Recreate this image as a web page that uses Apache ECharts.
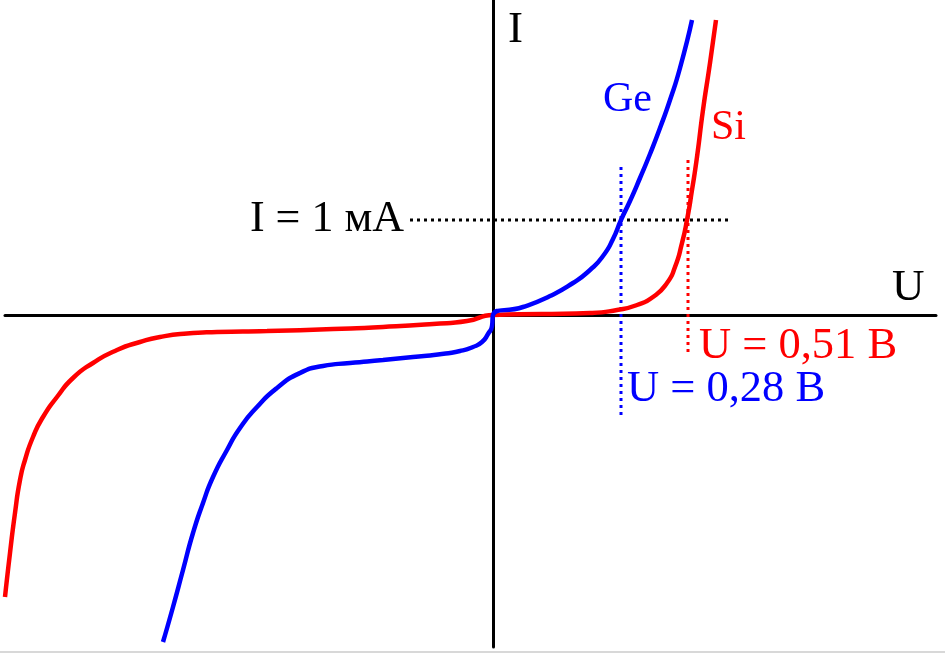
<!DOCTYPE html>
<html>
<head>
<meta charset="utf-8">
<script src="https://cdn.jsdelivr.net/npm/echarts@6/dist/echarts.min.js"></script>
<style>
html,body{margin:0;padding:0;background:#fff;}
#chart{width:945px;height:653px;}
</style>
</head>
<body>
<div id="chart"></div>
<script>
// Germanium diode I-V curve (schematic units)
var geU = [-3.30,-3.20,-3.10,-3.00,-2.90,-2.80,-2.66,-2.53,-2.36,-2.16,-1.93,-1.70,-1.43,-1.10,-0.80,-0.55,-0.33,-0.20,-0.11,-0.05,-0.01,0,
            0.30,0.57,0.80,0.97,1.10,1.20,1.28,1.37,1.47,1.57,1.67,1.77,1.87,1.99];
var geI = [-3.27,-2.92,-2.55,-2.18,-1.88,-1.62,-1.35,-1.13,-0.92,-0.73,-0.58,-0.51,-0.48,-0.45,-0.42,-0.395,-0.36,-0.32,-0.27,-0.19,-0.11,0,
            0.08,0.19,0.32,0.45,0.59,0.76,0.95,1.14,1.37,1.61,1.87,2.15,2.47,2.95];
// Silicon diode I-V curve (schematic units)
var siU = [-4.88,-4.83,-4.78,-4.73,-4.68,-4.60,-4.50,-4.36,-4.20,-4.00,-3.76,-3.53,-3.33,-3.06,-2.76,-2.26,-1.60,-1.10,-0.60,-0.26,0,
            0.97,1.24,1.44,1.60,1.74,1.82,1.89,1.94,1.99,2.04,2.10,2.17,2.23];
var siI = [-2.82,-2.38,-1.98,-1.65,-1.45,-1.22,-1.02,-0.82,-0.63,-0.48,-0.35,-0.27,-0.22,-0.185,-0.17,-0.16,-0.14,-0.12,-0.09,-0.06,0,
            0.02,0.05,0.10,0.18,0.32,0.48,0.72,0.95,1.25,1.58,2.05,2.52,2.95];
// Reference markers
var refCurrent = 0.95;            // I = 1 mA level
var refCurrentSpan = [-0.83, 2.37];
var geKnee = 1.28;                // U = 0,28 B
var geKneeSpan = [1.48, -1.00];
var siKnee = 1.95;                // U = 0,51 B
var siKneeSpan = [1.55, -0.40];
var labels = {
  axisI: 'I', axisU: 'U', ge: 'Ge', si: 'Si',
  current: 'I = 1 мA', siVolt: 'U = 0,51 B', geVolt: 'U = 0,28 B'
};

function pairs(xs, ys){ return xs.map(function(x,i){ return [x, ys[i]]; }); }

var BLUE = '#0000ff', RED = '#ff0000';
var FONT = '"Liberation Serif", "Times New Roman", serif';

var chart = echarts.init(document.getElementById('chart'), null, {renderer:'canvas'});
var axisCommon = {
  type: 'value',
  splitLine: {show:false},
  axisTick: {show:false},
  axisLabel: {show:false},
  axisLine: {show:true, onZero:true, lineStyle:{color:'#000', width:3}}
};
function txt(text, x, y, size, color, align){
  return {type:'text', z:100, style:{text:text, x:x, y:y, fill:color,
    font: size + 'px ' + FONT, textAlign: align || 'left', textVerticalAlign:'middle', verticalAlign:'middle'}};
}
chart.setOption({
  animation:false,
  backgroundColor:'#fff',
  grid:{left:5, right:9, top:0, bottom:6, containLabel:false},
  xAxis: Object.assign({min:-4.88, max:4.43}, axisCommon),
  yAxis: Object.assign({min:-3.32, max:3.15}, axisCommon),
  series:[
    {type:'line', data:[[refCurrentSpan[0],refCurrent],[refCurrentSpan[1],refCurrent]], symbol:'none',
     lineStyle:{color:'#000', width:3, type:[3,4]}, z:1},
    {type:'line', data:[[geKnee,geKneeSpan[0]],[geKnee,geKneeSpan[1]]], symbol:'none',
     lineStyle:{color:BLUE, width:3, type:[3,4]}, z:1},
    {type:'line', data:[[siKnee,siKneeSpan[0]],[siKnee,siKneeSpan[1]]], symbol:'none',
     lineStyle:{color:RED, width:3, type:[3,4]}, z:1},
    {type:'line', name:'Si', data:pairs(siU, siI), symbol:'none', smooth:0.6,
     lineStyle:{color:RED, width:4.5}, z:3},
    {type:'line', name:'Ge', data:pairs(geU, geI), symbol:'none', smooth:0.6,
     lineStyle:{color:BLUE, width:4.5}, z:4}
  ],
  graphic:[
    txt(labels.axisI, 508, 30, 45, '#000'),
    txt(labels.axisU, 892, 288, 45, '#000'),
    txt(labels.ge, 603, 100, 42, BLUE),
    txt(labels.si, 711, 128, 42, RED),
    txt(labels.current, 404, 219, 44, '#000', 'right'),
    txt(labels.siVolt, 699, 346, 44.5, RED),
    txt(labels.geVolt, 627, 389, 44.5, BLUE),
    {type:'rect', shape:{x:0, y:651, width:945, height:2}, style:{fill:'#d8d8d8'}, z:100}
  ]
});
</script>
</body>
</html>
